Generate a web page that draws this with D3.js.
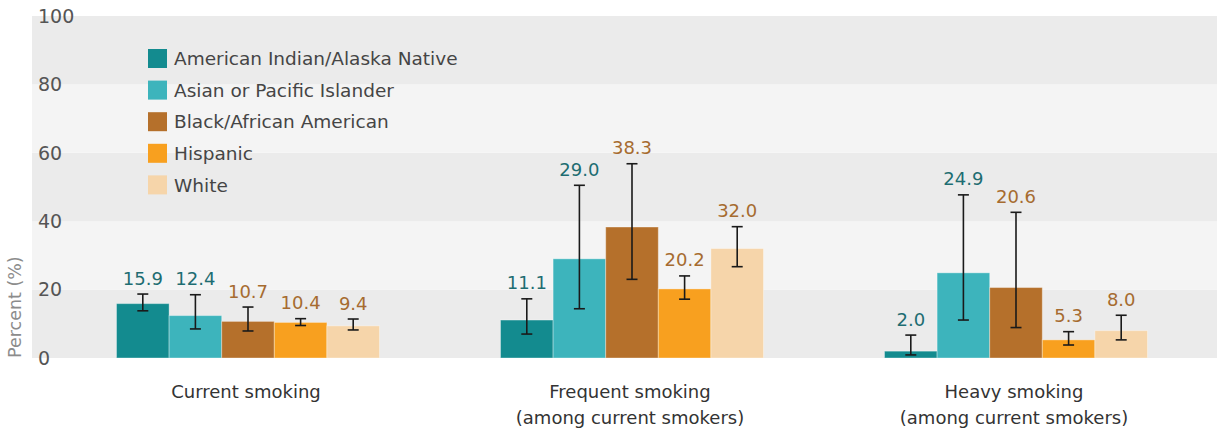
<!DOCTYPE html>
<html><head><meta charset="utf-8">
<script src="https://cdn.jsdelivr.net/npm/d3@7/dist/d3.min.js"></script>
<style>
html,body{margin:0;padding:0;background:#fff;}
svg{display:block;font-family:"DejaVu Sans",sans-serif;}
</style></head>
<body><svg id="chart" width="1217" height="432"></svg>
<script>
const categories = ["Current smoking", "Frequent smoking|(among current smokers)", "Heavy smoking|(among current smokers)"];
const seriesNames = ["American Indian/Alaska Native", "Asian or Pacific Islander", "Black/African American", "Hispanic", "White"];
const valAIAN  = [15.9, 11.1, 2.0];
const valAPI   = [12.4, 29.0, 24.9];
const valBlack = [10.7, 38.3, 20.6];
const valHisp  = [10.4, 20.2, 5.3];
const valWhite = [9.4, 32.0, 8.0];
const lowAIAN  = [13.8, 7.0, 0.9];
const lowAPI   = [8.5, 14.4, 11.1];
const lowBlack = [7.9, 23.0, 8.9];
const lowHisp  = [9.5, 17.2, 3.8];
const lowWhite = [8.2, 26.7, 5.3];
const upAIAN   = [18.7, 17.3, 6.7];
const upAPI    = [18.5, 50.5, 47.7];
const upBlack  = [14.9, 56.8, 42.6];
const upHisp   = [11.5, 24.0, 7.7];
const upWhite  = [11.4, 38.4, 12.5];
const yTicks = [0, 20, 40, 60, 80, 100];

const values = [valAIAN, valAPI, valBlack, valHisp, valWhite];
const lows = [lowAIAN, lowAPI, lowBlack, lowHisp, lowWhite];
const ups = [upAIAN, upAPI, upBlack, upHisp, upWhite];
const colors = ["#138b8f", "#3db4bc", "#b5702b", "#f8a01f", "#f6d5aa"];
const labelColors = ["#1e6d72", "#1e6d72", "#a66b30", "#a66b30", "#a66b30"];

const svg = d3.select("#chart");
const plotLeft = 32, plotRight = 1217;
const y = d3.scaleLinear().domain([0, 100]).range([358, 16]);
const x0 = d3.scaleBand().domain(categories).range([56, 1208]).padding(0);
const groupW = 263;
const x1 = d3.scaleBand().domain(seriesNames)
  .range([(x0.bandwidth() - groupW) / 2, (x0.bandwidth() + groupW) / 2]).padding(0);

// background bands
const bands = d3.pairs(yTicks);
svg.append("g").selectAll("rect").data(bands).join("rect")
  .attr("x", plotLeft).attr("width", plotRight - plotLeft)
  .attr("y", d => y(d[1])).attr("height", d => y(d[0]) - y(d[1]))
  .attr("fill", (d, i) => i % 2 === 0 ? "#ebebeb" : "#f4f4f4");

// y tick labels
svg.append("g").selectAll("text").data(yTicks).join("text")
  .attr("x", 38).attr("y", d => y(d)).attr("dy", "0.36em")
  .attr("font-size", 19).attr("fill", "#555")
  .text(d => d);

// y title
svg.append("text")
  .attr("transform", `translate(21,${y(0)}) rotate(-90)`)
  .attr("text-anchor", "start").attr("font-size", 17.5).attr("fill", "#8c8c8c")
  .text("Percent (%)");

// data
const rows = [];
categories.forEach((c, ci) => {
  seriesNames.forEach((s, si) => {
    rows.push({c, s, si, v: values[si][ci], lo: lows[si][ci], hi: ups[si][ci]});
  });
});

const g = svg.append("g");
g.selectAll("rect.bar").data(rows).join("rect").attr("class", "bar")
  .attr("x", d => x0(d.c) + x1(d.s)).attr("width", x1.bandwidth())
  .attr("y", d => y(d.v)).attr("height", d => y(0) - y(d.v))
  .attr("fill", d => colors[d.si])
  .attr("stroke", "rgba(255,255,255,0.35)").attr("stroke-width", 1);

const cx = d => x0(d.c) + x1(d.s) + x1.bandwidth() / 2;
const capW = 5.5;
const err = g.append("g").attr("stroke", "#1a1a1a").attr("stroke-width", 1.6);
err.selectAll("line.v").data(rows).join("line")
  .attr("x1", cx).attr("x2", cx).attr("y1", d => y(d.lo)).attr("y2", d => y(d.hi));
err.selectAll("line.t").data(rows).join("line")
  .attr("x1", d => cx(d) - capW).attr("x2", d => cx(d) + capW)
  .attr("y1", d => y(d.hi)).attr("y2", d => y(d.hi));
err.selectAll("line.b").data(rows).join("line")
  .attr("x1", d => cx(d) - capW).attr("x2", d => cx(d) + capW)
  .attr("y1", d => y(d.lo)).attr("y2", d => y(d.lo));

g.selectAll("text.val").data(rows).join("text").attr("class", "val")
  .attr("x", cx).attr("y", d => y(d.hi) - 9.5)
  .attr("text-anchor", "middle").attr("font-size", 18)
  .attr("fill", d => labelColors[d.si])
  .text(d => d.v.toFixed(1));

// category labels
const cat = svg.append("g").selectAll("text").data(categories).join("text")
  .attr("x", d => x0(d) + x0.bandwidth() / 2 - 2)
  .attr("y", 397.5).attr("text-anchor", "middle")
  .attr("font-size", 18).attr("fill", "#333");
cat.each(function(d) {
  const parts = d.split("|");
  d3.select(this).selectAll("tspan").data(parts).join("tspan")
    .attr("x", x0(d) + x0.bandwidth() / 2 - 2)
    .attr("dy", (p, i) => i === 0 ? 0 : 26.5)
    .text(p => p);
});

// legend
const leg = svg.append("g").attr("transform", "translate(148,49)");
const li = leg.selectAll("g").data(seriesNames).join("g")
  .attr("transform", (d, i) => `translate(0,${i * 31.6})`);
li.append("rect").attr("width", 19).attr("height", 19).attr("fill", (d, i) => colors[i]);
li.append("text").attr("x", 26).attr("y", 9.5).attr("dy", "0.36em")
  .attr("font-size", 18.5).attr("fill", "#454545").text(d => d);
</script>
</body></html>
